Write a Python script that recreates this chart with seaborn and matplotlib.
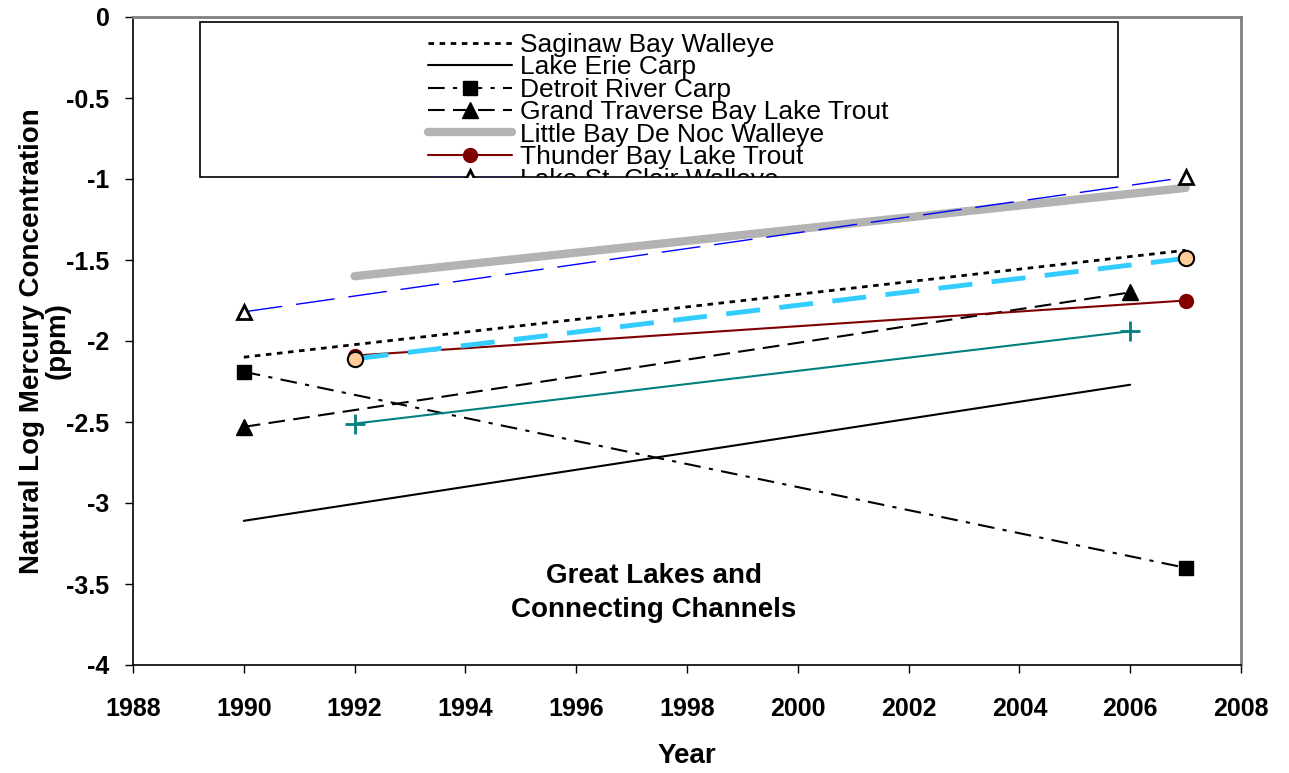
#recreating the great lakes mercury trend chart
import matplotlib
matplotlib.use('Agg')
import matplotlib.pyplot as plt
from matplotlib.patches import Rectangle
import seaborn as sns

# data
saginaw_years = [1990, 2007]
saginaw_vals = [-2.10, -1.44]
erie_years = [1990, 2006]
erie_vals = [-3.11, -2.27]
detroit_years = [1990, 2007]
detroit_vals = [-2.19, -3.40]
traverse_years = [1990, 2006]
traverse_vals = [-2.53, -1.70]
denoc_years = [1992, 2007]
denoc_vals = [-1.60, -1.055]
thunder_years = [1992, 2007]
thunder_vals = [-2.09, -1.75]
stclair_years = [1990, 2007]
stclair_vals = [-1.82, -0.99]
cyan_years = [1992, 2007]
cyan_vals = [-2.11, -1.49]
teal_years = [1992, 2006]
teal_vals = [-2.51, -1.94]

legend_names = ['Saginaw Bay Walleye', 'Lake Erie Carp', 'Detroit River Carp',
                'Grand Traverse Bay Lake Trout', 'Little Bay De Noc Walleye',
                'Thunder Bay Lake Trout', 'Lake St. Clair Walleye']
x_ticks = [1988, 1990, 1992, 1994, 1996, 1998, 2000, 2002, 2004, 2006, 2008]
y_ticks = [0, -0.5, -1, -1.5, -2, -2.5, -3, -3.5, -4]
y_tick_labels = ['0', '-0.5', '-1', '-1.5', '-2', '-2.5', '-3', '-3.5', '-4']

sns.set_style('ticks')
plt.rcParams['font.family'] = ['Liberation Sans', 'DejaVu Sans']
plt.rcParams['axes.unicode_minus'] = False
for key in ['text.color', 'axes.labelcolor', 'xtick.color', 'ytick.color']:
    plt.rcParams[key] = 'black'

W, H = 1289, 773
fig = plt.figure(figsize=(W / 100, H / 100), dpi=100)
ax = fig.add_axes([133 / W, 1 - 665 / H, (1241 - 133) / W, (665 - 17) / H])

# series, in drawing order
sns.lineplot(x=saginaw_years, y=saginaw_vals, ax=ax, color='black', lw=2,
             linestyle=(0, (2, 2)), label=legend_names[0], legend=False)
sns.lineplot(x=erie_years, y=erie_vals, ax=ax, color='black', lw=1.5,
             label=legend_names[1], legend=False)
sns.lineplot(x=detroit_years, y=detroit_vals, ax=ax, color='black', lw=1.5,
             linestyle=(0, (8, 4, 2, 4)), marker='s', ms=10, mec='black',
             mfc='black', mew=1, label=legend_names[2], legend=False)
sns.lineplot(x=traverse_years, y=traverse_vals, ax=ax, color='black', lw=1.5,
             linestyle=(0, (8, 4)), marker='^', ms=11, mec='black',
             mfc='black', mew=1, label=legend_names[3], legend=False)
sns.lineplot(x=denoc_years, y=denoc_vals, ax=ax, color='#B3B3B3', lw=6,
             label=legend_names[4], legend=False)
sns.lineplot(x=thunder_years, y=thunder_vals, ax=ax, color='#800000', lw=1.5,
             marker='o', ms=10, mec='#800000', mfc='#800000', mew=1,
             label=legend_names[5], legend=False)
sns.lineplot(x=stclair_years, y=stclair_vals, ax=ax, color='#0000FF', lw=1,
             linestyle=(0, (28, 10)), marker='^', ms=10, mec='black',
             mfc='white', mew=2, label=legend_names[6], legend=False)
sns.lineplot(x=cyan_years, y=cyan_vals, ax=ax, color='#33CCFF', lw=3.5,
             linestyle=(0, (7, 4)), marker='o', ms=11, mec='black',
             mfc='#FFCC99', mew=1.5, legend=False)
sns.lineplot(x=teal_years, y=teal_vals, ax=ax, color='#008080', lw=1.5,
             marker='+', ms=15, mec='#008080', mew=2, legend=False)

ax.set_xlim(1988, 2008)
ax.set_ylim(-4, 0)
ax.set_xticks(x_ticks)
ax.set_xticklabels([str(t) for t in x_ticks], fontsize=18, fontweight='bold')
ax.set_yticks(y_ticks)
ax.set_yticklabels(y_tick_labels, fontsize=18, fontweight='bold')
ax.tick_params(axis='x', direction='out', length=6, width=1, pad=17, color='black')
ax.tick_params(axis='y', direction='out', length=6, width=1, pad=11, color='black')

ax.set_xlabel('Year', fontsize=20, fontweight='bold', labelpad=16)

# y label in two pieces, as in the original
ax_w = 1241 - 133
ax.set_ylabel('Natural Log Mercury Concentration', fontsize=20, fontweight='bold')
ax.yaxis.set_label_coords((45 - 133) / ax_w, 0.5)
ax.text((58 - 133) / ax_w, 0.5, '(ppm)', transform=ax.transAxes, rotation=90,
        ha='center', va='center', fontsize=20, fontweight='bold')

for side in ['left', 'bottom']:
    ax.spines[side].set_color('black')
    ax.spines[side].set_linewidth(1.2)
for side in ['top', 'right']:
    ax.spines[side].set_color('#808080')
    ax.spines[side].set_linewidth(2)

ax.text(1997.4, -3.556, 'Great Lakes and\nConnecting Channels', fontsize=20,
        fontweight='bold', ha='center', va='center', linespacing=1.4)

# legend box, cut off at the bottom like the original
box = (200 / W, 1 - 177 / H, (1118 - 200) / W, (177 - 22) / H)
frame = Rectangle(box[:2], box[2], box[3], transform=fig.transFigure,
                  facecolor='white', edgecolor='black', lw=1.2, zorder=4.9)
ax.add_artist(frame)
clip = Rectangle(box[:2], box[2], box[3], transform=fig.transFigure)

handles, labels = ax.get_legend_handles_labels()
leg = ax.legend(handles, labels, loc='upper left',
                bbox_to_anchor=(428 / W, 1 - 33 / H),
                bbox_transform=fig.transFigure, frameon=False, fontsize=19,
                handlelength=3.18, handletextpad=0.3, labelspacing=-0.06,
                borderpad=0, borderaxespad=0, numpoints=1)
leg.set_zorder(5)
for art in leg.findobj():
    art.set_clip_path(clip)

fig.savefig('out.png', dpi=100)
